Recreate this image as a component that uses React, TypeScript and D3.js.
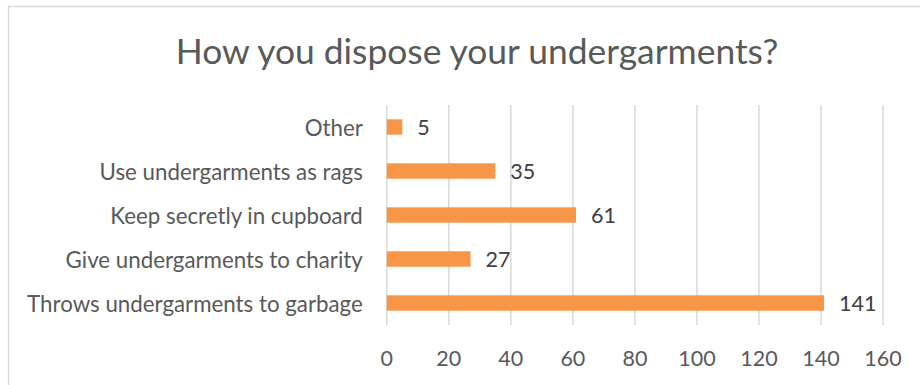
import React, { useEffect, useRef } from "react";
import * as d3 from "d3";

const categories = [
  "Other",
  "Use undergarments as rags",
  "Keep secretly in cupboard",
  "Give undergarments to charity",
  "Throws undergarments to garbage",
];
const values = [5, 35, 61, 27, 141];
const xTicks = [0, 20, 40, 60, 80, 100, 120, 140, 160];
const title = "How you dispose your undergarments?";

const FONT = "Lato, sans-serif";

export default function App() {
  const ref = useRef<SVGSVGElement>(null);

  useEffect(() => {
    const svg = d3.select(ref.current);
    svg.selectAll("*").remove();

    const W = 920, H = 385;
    const left = 386.8, right = 883, top = 105, bottom = 325;

    svg.append("rect").attr("x", 0).attr("y", 0).attr("width", W).attr("height", H).attr("fill", "#fff");
    svg.append("rect")
      .attr("x", 8.5).attr("y", 6.5).attr("width", W + 20).attr("height", H + 20)
      .attr("fill", "#fff").attr("stroke", "#d9d9d9").attr("stroke-width", 1.5);

    const x = d3.scaleLinear().domain([0, 160]).range([left, right]);
    const y = d3.scaleBand().domain(categories).range([top, bottom]).paddingInner(0.65).paddingOuter(0.325);

    svg.append("g").selectAll("line").data(xTicks).join("line")
      .attr("x1", d => x(d)).attr("x2", d => x(d))
      .attr("y1", top).attr("y2", bottom)
      .attr("stroke", "#d9d9d9").attr("stroke-width", 1.5);

    svg.append("text").text(title)
      .attr("x", 477).attr("y", 50).attr("text-anchor", "middle").attr("dominant-baseline", "central")
      .attr("font-family", FONT).attr("font-size", 35.4).attr("fill", "#595959");

    svg.append("g").selectAll("rect").data(values).join("rect")
      .attr("x", x(0))
      .attr("y", (d, i) => y(categories[i])!)
      .attr("width", d => x(d) - x(0))
      .attr("height", y.bandwidth())
      .attr("fill", "#f79646");

    svg.append("g").selectAll("text").data(values).join("text")
      .text(d => String(d))
      .attr("x", d => x(d) + 15)
      .attr("y", (d, i) => y(categories[i])! + y.bandwidth() / 2)
      .attr("dominant-baseline", "central")
      .attr("font-family", FONT).attr("font-size", 21.5).attr("fill", "#404040");

    svg.append("g").selectAll("text").data(categories).join("text")
      .text(d => d)
      .attr("x", left - 24)
      .attr("y", d => y(d)! + y.bandwidth() / 2)
      .attr("text-anchor", "end").attr("dominant-baseline", "central")
      .attr("font-family", FONT).attr("font-size", 22.3).attr("fill", "#595959");

    svg.append("g").selectAll("text").data(xTicks).join("text")
      .text(d => String(d))
      .attr("x", d => x(d)).attr("y", 358)
      .attr("text-anchor", "middle").attr("dominant-baseline", "central")
      .attr("font-family", FONT).attr("font-size", 21.5).attr("fill", "#595959");
  }, []);

  return (
    <svg ref={ref} width={920} height={385}
      style={{ position: "absolute", left: 0, top: 0, display: "block" }} />
  );
}
